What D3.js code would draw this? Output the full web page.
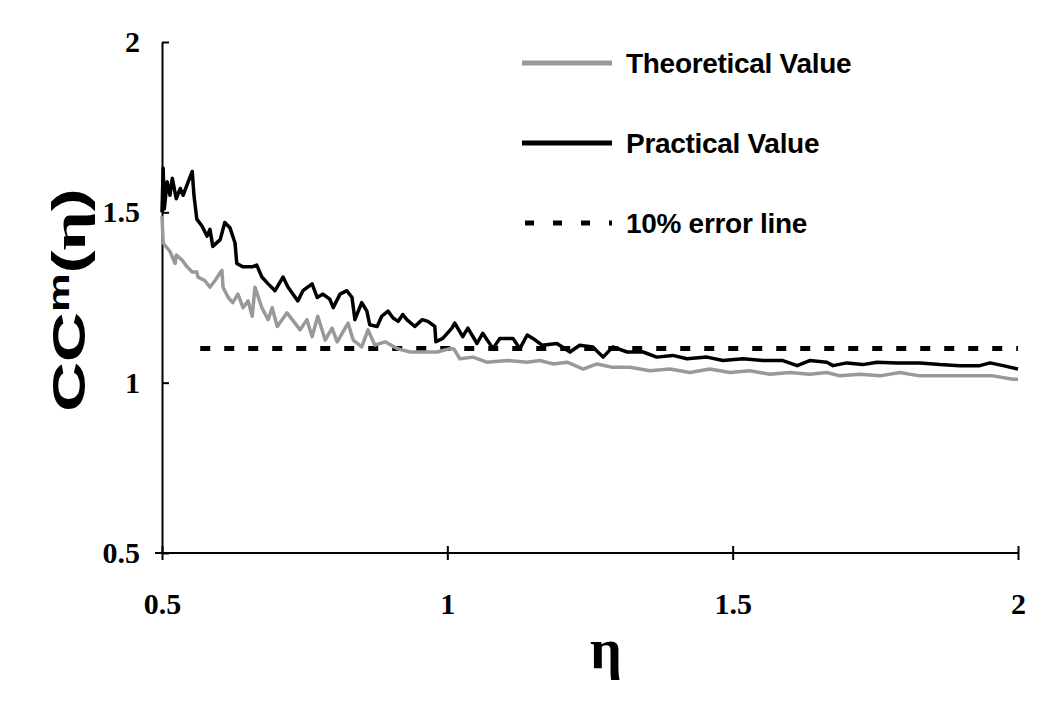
<!DOCTYPE html>
<html lang="en">
<head>
<meta charset="UTF-8">
<title>CCm(eta) chart</title>
<style>
body { margin: 0; background: #fff; }
svg { display: block; }
</style>
</head>
<body>
<script src="https://cdnjs.cloudflare.com/ajax/libs/d3/7.8.5/d3.min.js"></script>
<script>
// tick values
var xTicks = [0.5, 1, 1.5, 2];
var yTicks = [0.5, 1, 1.5, 2];

// series: [eta, CCm]
var theoretical = [
  [0.500,1.49],[0.502,1.41],[0.514,1.385],[0.523,1.35],[0.525,1.375],[0.535,1.36],[0.544,1.34],
  [0.553,1.325],[0.561,1.325],[0.563,1.31],[0.575,1.30],[0.584,1.28],[0.593,1.30],[0.605,1.33],
  [0.607,1.28],[0.616,1.25],[0.624,1.235],[0.633,1.26],[0.642,1.22],[0.651,1.24],[0.658,1.195],
  [0.663,1.28],[0.675,1.22],[0.686,1.185],[0.693,1.22],[0.702,1.165],[0.719,1.205],[0.733,1.175],
  [0.742,1.155],[0.754,1.185],[0.763,1.135],[0.773,1.195],[0.786,1.125],[0.798,1.16],[0.807,1.12],
  [0.826,1.175],[0.835,1.125],[0.850,1.105],[0.861,1.155],[0.873,1.11],[0.891,1.12],[0.912,1.10],
  [0.935,1.09],[0.957,1.09],[0.982,1.09],[1.005,1.10],[1.012,1.098],[1.022,1.07],[1.045,1.075],
  [1.069,1.06],[1.105,1.065],[1.140,1.06],[1.162,1.065],[1.185,1.055],[1.210,1.06],[1.238,1.04],
  [1.262,1.055],[1.290,1.045],[1.320,1.045],[1.355,1.035],[1.390,1.04],[1.425,1.03],[1.460,1.04],
  [1.495,1.03],[1.530,1.035],[1.565,1.025],[1.600,1.03],[1.635,1.025],[1.665,1.03],[1.688,1.02],
  [1.723,1.025],[1.758,1.02],[1.793,1.03],[1.828,1.02],[1.875,1.02],[1.916,1.02],[1.956,1.02],
  [1.991,1.01],[2.000,1.01]
];

var practical = [
  [0.500,1.50],[0.502,1.63],[0.504,1.51],[0.509,1.59],[0.514,1.55],[0.518,1.60],[0.525,1.54],
  [0.532,1.57],[0.537,1.55],[0.546,1.59],[0.553,1.62],[0.556,1.55],[0.561,1.48],[0.570,1.46],
  [0.579,1.43],[0.584,1.45],[0.589,1.40],[0.602,1.42],[0.610,1.47],[0.619,1.455],[0.628,1.41],
  [0.631,1.35],[0.642,1.34],[0.658,1.34],[0.666,1.345],[0.675,1.31],[0.686,1.29],[0.698,1.27],
  [0.712,1.31],[0.721,1.28],[0.738,1.24],[0.747,1.27],[0.763,1.29],[0.772,1.25],[0.782,1.26],
  [0.794,1.245],[0.800,1.22],[0.812,1.26],[0.824,1.27],[0.833,1.25],[0.838,1.185],[0.850,1.235],
  [0.859,1.21],[0.864,1.17],[0.877,1.165],[0.885,1.195],[0.896,1.21],[0.905,1.19],[0.914,1.18],
  [0.922,1.20],[0.929,1.185],[0.943,1.165],[0.956,1.185],[0.966,1.18],[0.978,1.165],[0.980,1.12],
  [0.992,1.13],[1.008,1.16],[1.013,1.175],[1.027,1.135],[1.036,1.16],[1.052,1.115],[1.062,1.145],
  [1.080,1.10],[1.092,1.13],[1.115,1.13],[1.127,1.10],[1.140,1.14],[1.150,1.13],[1.166,1.11],
  [1.192,1.115],[1.215,1.09],[1.232,1.11],[1.255,1.105],[1.273,1.075],[1.290,1.105],[1.315,1.09],
  [1.332,1.09],[1.343,1.09],[1.367,1.075],[1.395,1.08],[1.420,1.07],[1.455,1.075],[1.483,1.065],
  [1.518,1.07],[1.553,1.065],[1.588,1.065],[1.613,1.05],[1.635,1.065],[1.665,1.06],[1.676,1.05],
  [1.700,1.058],[1.728,1.053],[1.753,1.06],[1.788,1.058],[1.828,1.058],[1.863,1.053],[1.898,1.05],
  [1.933,1.05],[1.951,1.058],[1.974,1.05],[2.000,1.04]
];

var errorLevel = 1.1;
var errorStart = 0.567;

var legendItems = [
  { label: "Theoretical Value", type: "theo" },
  { label: "Practical Value", type: "prac" },
  { label: "10% error line", type: "err" }
];

var width = 1050, height = 702;
var margin = { left: 162, right: 32, top: 42, bottom: 149 };

var svg = d3.select("body").append("svg")
  .attr("width", width)
  .attr("height", height);

var x = d3.scaleLinear().domain([0.5, 2]).range([margin.left, width - margin.right]);
var y = d3.scaleLinear().domain([0.5, 2]).range([height - margin.bottom, margin.top]);

var fmt = function (d) { return String(d); };
var serif = "'Liberation Serif', 'Times New Roman', serif";
var sans = "'Liberation Sans', Arial, sans-serif";

// x axis, ticks cross the line
var xAxis = svg.append("g")
  .attr("transform", "translate(0," + y(0.5) + ")")
  .call(d3.axisBottom(x).tickValues(xTicks).tickFormat(fmt).tickSize(7).tickSizeOuter(0));
xAxis.select(".domain").attr("stroke", "#000").attr("stroke-width", 2)
  .attr("d", "M" + (x(0.5) - 7) + ",0H" + x(2));
xAxis.selectAll(".tick line").attr("y1", -7).attr("stroke-width", 2);
xAxis.selectAll(".tick text").attr("dy", "0.71em").attr("y", 40)
  .style("font-family", serif).style("font-weight", "bold").style("font-size", "30px");

// y axis
var yAxis = svg.append("g")
  .attr("transform", "translate(" + x(0.5) + ",0)")
  .call(d3.axisLeft(y).tickValues(yTicks).tickFormat(fmt).tickSize(7).tickSizeOuter(0));
yAxis.select(".domain").attr("stroke", "#000").attr("stroke-width", 2);
yAxis.selectAll(".tick line").attr("x2", 7).attr("stroke-width", 2);
yAxis.selectAll(".tick text").attr("x", -22)
  .style("font-family", serif).style("font-weight", "bold").style("font-size", "30px");

var line = d3.line().x(function (d) { return x(d[0]); }).y(function (d) { return y(d[1]); });

// 10% error line
svg.append("line")
  .attr("x1", x(errorStart)).attr("x2", x(2))
  .attr("y1", y(errorLevel)).attr("y2", y(errorLevel))
  .attr("stroke", "#000").attr("stroke-width", 5)
  .attr("stroke-dasharray", "10,14");

svg.append("path").datum(theoretical)
  .attr("d", line).attr("fill", "none")
  .attr("stroke", "#999").attr("stroke-width", 3.5).attr("stroke-linejoin", "round");

svg.append("path").datum(practical)
  .attr("d", line).attr("fill", "none")
  .attr("stroke", "#000").attr("stroke-width", 3.5).attr("stroke-linejoin", "round");

// legend
var legend = svg.append("g");
legendItems.forEach(function (item, i) {
  var ly = 63 + i * 80;
  var l = legend.append("line")
    .attr("x1", 522).attr("x2", 612).attr("y1", ly).attr("y2", ly)
    .attr("stroke-width", 5);
  if (item.type === "theo") l.attr("stroke", "#999");
  if (item.type === "prac") l.attr("stroke", "#000");
  if (item.type === "err") l.attr("stroke", "#000").attr("stroke-dasharray", "9,19").attr("x1", 525);
  legend.append("text")
    .attr("x", 626).attr("y", ly + 10)
    .style("font-family", sans).style("font-weight", "bold")
    .style("font-size", "28px").style("letter-spacing", "-0.3px")
    .text(item.label);
});

// axis titles
var yTitle = svg.append("text")
  .attr("transform", "translate(85,300) rotate(-90) scale(1.5,1)")
  .attr("text-anchor", "middle")
  .style("font-family", sans)
  .style("font-weight", "bold")
  .style("font-size", "46px");
yTitle.append("tspan").text("CC");
yTitle.append("tspan").attr("dy", -16).style("font-size", "29px").text("m");
yTitle.append("tspan").attr("dy", 16).text("(");
yTitle.append("tspan").style("font-family", serif).text("η");
yTitle.append("tspan").text(")");

svg.append("text")
  .attr("x", 606).attr("y", 668)
  .attr("text-anchor", "middle")
  .style("font-family", serif)
  .style("font-weight", "bold")
  .style("font-size", "56px")
  .text("η");
</script>
</body>
</html>
